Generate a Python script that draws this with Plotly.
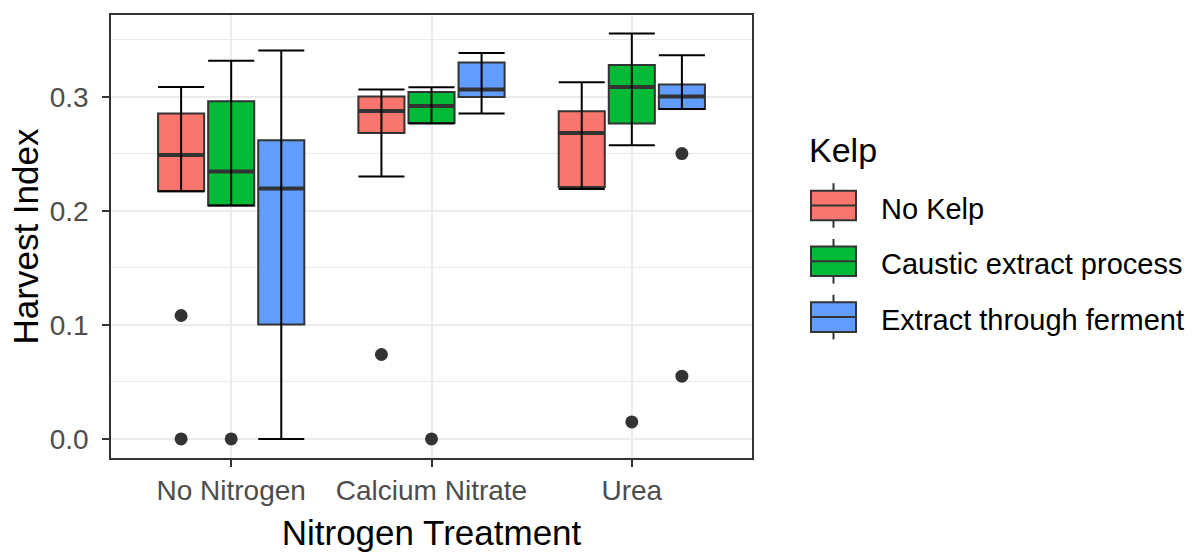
import plotly.graph_objects as go

# Nitrogen treatments (x axis) and kelp treatments (fill groups)
categories = ["No Nitrogen", "Calcium Nitrate", "Urea"]
kelp_levels = ["No Kelp", "Caustic extract process", "Extract through ferment"]
kelp_colors = ["#F8766D", "#00BA38", "#619CFF"]

# Harvest index summaries, one value per nitrogen treatment
no_kelp_lower = [0.2171, 0.2300, 0.2191]
no_kelp_q1 = [0.2171, 0.2682, 0.2209]
no_kelp_median = [0.2489, 0.2875, 0.2682]
no_kelp_q3 = [0.2852, 0.3001, 0.2872]
no_kelp_upper = [0.3085, 0.3062, 0.3126]
no_kelp_outliers = [[0.1082, 0.0], [0.0740], []]

caustic_lower = [0.2046, 0.2764, 0.2574]
caustic_q1 = [0.2046, 0.2770, 0.2764]
caustic_median = [0.2344, 0.2919, 0.3085]
caustic_q3 = [0.2960, 0.3041, 0.3278]
caustic_upper = [0.3316, 0.3082, 0.3553]
caustic_outliers = [[0.0], [0.0], [0.0149]]

ferment_lower = [0.0, 0.2852, 0.2892]
ferment_q1 = [0.1003, 0.2997, 0.2892]
ferment_median = [0.2195, 0.3062, 0.3001]
ferment_q3 = [0.2618, 0.3299, 0.3106]
ferment_upper = [0.3404, 0.3383, 0.3363]
ferment_outliers = [[], [], [0.2501, 0.0550]]

y_ticks = [0.0, 0.1, 0.2, 0.3]

groups = [
    (no_kelp_lower, no_kelp_q1, no_kelp_median, no_kelp_q3, no_kelp_upper, no_kelp_outliers),
    (caustic_lower, caustic_q1, caustic_median, caustic_q3, caustic_upper, caustic_outliers),
    (ferment_lower, ferment_q1, ferment_median, ferment_q3, ferment_upper, ferment_outliers),
]

# layout geometry
W, H = 1195, 552
ML, MR, MT, MB = 111, 443, 15, 94
PW, PH = W - ML - MR, H - MT - MB
DODGE = [-0.25, 0.0, 0.25]
BOX_W = 0.23
DARK = "#333333"
FONT = "Liberation Sans, Arial, sans-serif"

fig = go.Figure()

for k, (lo, q1, med, q3, hi, outl) in enumerate(groups):
    xs = [i + 1 + DODGE[k] for i in range(len(categories))]
    fig.add_trace(go.Box(
        x=xs, q1=q1, median=med, q3=q3, lowerfence=q1, upperfence=q3,
        width=BOX_W, fillcolor=kelp_colors[k], line=dict(color=DARK, width=2),
        name=kelp_levels[k], showlegend=False, hoverinfo="skip",
    ))
    # thicker median bar
    mx, my = [], []
    for x, m in zip(xs, med):
        mx += [x - BOX_W / 2, x + BOX_W / 2, None]
        my += [m, m, None]
    fig.add_trace(go.Scatter(x=mx, y=my, mode="lines", line=dict(color=DARK, width=4),
                             showlegend=False, hoverinfo="skip"))
    # outlying points
    ox, oy = [], []
    for x, pts in zip(xs, outl):
        ox += [x] * len(pts)
        oy += pts
    fig.add_trace(go.Scatter(x=ox, y=oy, mode="markers",
                             marker=dict(color=DARK, size=13), showlegend=False,
                             hoverinfo="skip"))

# error-bar style whiskers drawn over the boxes
for k, (lo, q1, med, q3, hi, outl) in enumerate(groups):
    xs = [i + 1 + DODGE[k] for i in range(len(categories))]
    ex, ey = [], []
    for x, a, b in zip(xs, lo, hi):
        ex += [x - BOX_W / 2, x + BOX_W / 2, None, x, x, None, x - BOX_W / 2, x + BOX_W / 2, None]
        ey += [a, a, None, a, b, None, b, b, None]
    fig.add_trace(go.Scatter(x=ex, y=ey, mode="lines", line=dict(color="black", width=2),
                             showlegend=False, hoverinfo="skip"))


def px_x(px):
    return (px - ML) / PW


def px_y(py):
    return (H - MB - py) / PH


# legend drawn as boxplot keys
shapes = []
annotations = [dict(text="Kelp", x=px_x(807), y=px_y(150), xref="paper", yref="paper",
                    xanchor="left", yanchor="middle", showarrow=False,
                    font=dict(family=FONT, size=34, color="black"))]
key_left, key_right, key_mid = 811, 856, 833.5
for k, name in enumerate(kelp_levels):
    cy = 205.5 + 55.8 * k
    top, bot = cy - 14.8, cy + 14.8
    shapes.append(dict(type="line", xref="paper", yref="paper",
                       x0=px_x(key_mid), x1=px_x(key_mid), y0=px_y(top - 7.5), y1=px_y(bot + 7.5),
                       line=dict(color=DARK, width=2)))
    shapes.append(dict(type="rect", xref="paper", yref="paper",
                       x0=px_x(key_left), x1=px_x(key_right), y0=px_y(bot), y1=px_y(top),
                       fillcolor=kelp_colors[k], line=dict(color=DARK, width=2)))
    shapes.append(dict(type="line", xref="paper", yref="paper",
                       x0=px_x(key_left), x1=px_x(key_right), y0=px_y(cy), y1=px_y(cy),
                       line=dict(color=DARK, width=2)))
    annotations.append(dict(text=name, x=px_x(879), y=px_y(cy + 3), xref="paper", yref="paper",
                            xanchor="left", yanchor="middle", showarrow=False,
                            font=dict(family=FONT, size=29, color="black")))

axis_common = dict(
    showgrid=True, gridcolor="#EBEBEB", gridwidth=2, zeroline=False,
    showline=True, mirror=True, linecolor=DARK, linewidth=1.5,
    ticks="outside", ticklen=7, tickwidth=1.5, tickcolor=DARK,
    tickfont=dict(family=FONT, size=28, color="#4D4D4D"),
)

fig.update_layout(
    width=W, height=H,
    margin=dict(l=ML, r=MR, t=MT, b=MB),
    paper_bgcolor="white", plot_bgcolor="white",
    boxmode="overlay", showlegend=False,
    font=dict(family=FONT),
    shapes=shapes, annotations=annotations,
    xaxis=dict(
        **axis_common,
        automargin=False,
        range=[0.4, 3.6], tickvals=[1, 2, 3], ticktext=categories,
        title=dict(text="Nitrogen Treatment", font=dict(family=FONT, size=35, color="black"),
                   standoff=15),
    ),
    yaxis=dict(
        **axis_common,
        range=[-0.0167, 0.3716], tickvals=y_ticks, tickformat=".1f",
        ticklabelstandoff=8,
        minor=dict(dtick=0.05, tick0=0.05, showgrid=True, gridcolor="#EBEBEB", gridwidth=1, ticks=""),
        title=dict(text="Harvest Index", font=dict(family=FONT, size=35, color="black"),
                   standoff=0),
    ),
)

fig.write_html("out.html")
